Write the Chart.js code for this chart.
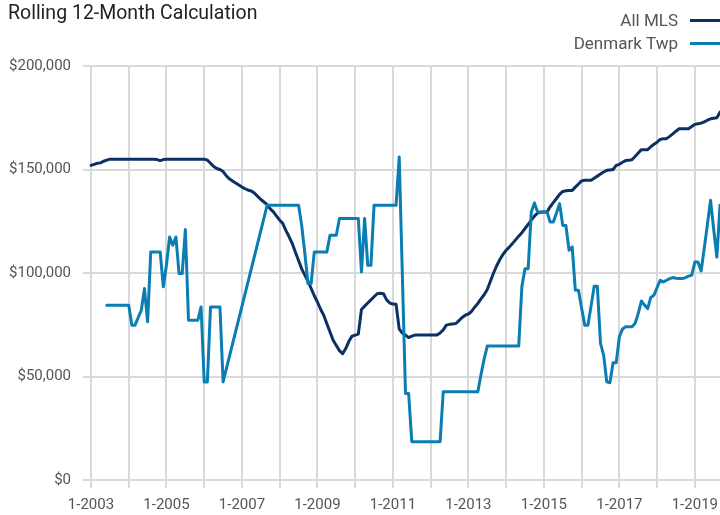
<!DOCTYPE html>
<html>
<head>
<meta charset="utf-8">
<script src="https://cdn.jsdelivr.net/npm/chart.js@4.4.1/dist/chart.umd.min.js"></script>
<style>
  html, body { margin: 0; padding: 0; background: #ffffff; }
  canvas { display: block; }
</style>
</head>
<body>
<canvas id="c" width="720" height="515"></canvas>
<script>
const chartTitle = 'Rolling 12-Month Calculation';
const seriesNames = ['All MLS', 'Denmark Twp'];
const seriesColors = ['#0b3162', '#0a7db3'];
const startYear = 2003;
const monthCount = 201; // 1-2003 .. 9-2019
const xTickLabels = ['1-2003', '1-2005', '1-2007', '1-2009', '1-2011', '1-2013', '1-2015', '1-2017', '1-2019'];
const yTicks = [0, 50000, 100000, 150000, 200000];

// values in thousands of dollars, one per month
const allMlsK = [
  152, 152.5, 153, 153.2, 154, 154.5, 155, 155, 155, 155, 155, 155,
  155, 155, 155, 155, 155, 155, 155, 155, 155, 154.8, 154.3, 154.8,
  155, 155, 155, 155, 155, 155, 155, 155, 155, 155, 155, 155,
  155, 154.5, 153, 151.5, 150.5, 150, 149, 147, 145.5, 144.5, 143.5, 142.5,
  141.5, 140.7, 140, 139.6, 138.5, 137, 135.5, 134.3, 133, 131, 129.5, 127.5,
  125.5, 123.9, 120.5, 117.5, 114.2, 110, 106, 102, 99, 96, 92.5, 89,
  86, 82.5, 79.6, 75.5, 71.5, 67.5, 65, 62.5, 61, 63.5, 67, 69.5,
  70, 70.5, 82.4, 84, 85.5, 87, 88.5, 90, 90.2, 90, 87, 85.5,
  85, 84.9, 73, 71, 70, 68.8, 69.5, 70, 70, 70, 70, 70,
  70, 70, 70, 71, 72.5, 74.8, 75.2, 75.4, 75.6, 77, 78.5, 79.6,
  80.2, 81.5, 83.5, 85.3, 87.5, 89.5, 92, 96, 100, 103.5, 106.5, 109,
  111, 112.5, 114.2, 116, 117.8, 119.5, 121.5, 123.5, 125.5, 127.5, 129, 129.3,
  129.5, 129.5, 132, 134, 136, 138, 139.4, 139.7, 139.9, 139.9, 141.5, 143,
  144.5, 144.8, 144.8, 144.8, 145.8, 146.8, 147.8, 148.8, 149.6, 149.8, 150, 152,
  152.5, 153.5, 154.3, 154.5, 154.7, 156.3, 158, 159.6, 159.6, 159.6, 161, 162.2,
  163.2, 164.5, 164.9, 164.9, 166, 167.2, 168.5, 169.7, 169.7, 169.7, 169.7, 170.8,
  171.8, 172.1, 172.4, 173, 173.8, 174.5, 174.8, 175, 177.7
];

const denmarkK = [
  null, null, null, null, null, 84.4, 84.4, 84.4, 84.4, 84.4, 84.4, 84.4,
  84.4, 74.8, 74.8, 78.5, 82, 92.5, 76.4, 110.2, 110.2, 110.2, 110.2, 93.3,
  104, 117.4, 113.4, 117.4, 99.7, 99.7, 121, 77.2, 77.2, 77.2, 77.2, 83.6,
  47.4, 47.4, 83.6, 83.6, 83.6, 83.6, 47.4, null, null, null, null, null,
  null, null, null, null, null, null, null, null, 132.7, 132.7, 132.7, 132.7,
  132.7, 132.7, 132.7, 132.7, 132.7, 132.7, 132.7, 122.9, 109.4, 94.9, 94.9, 110.2,
  110.2, 110.2, 110.2, 110.2, 118.2, 118.2, 118.2, 126.3, 126.3, 126.3, 126.3, 126.3,
  126.3, 126.3, 100.5, 126.3, 103.7, 103.7, 132.7, 132.7, 132.7, 132.7, 132.7, 132.7,
  132.7, 132.7, 156, 99, 41.8, 41.8, 18.5, 18.5, 18.5, 18.5, 18.5, 18.5,
  18.5, 18.5, 18.5, 18.5, 42.6, 42.6, 42.6, 42.6, 42.6, 42.6, 42.6, 42.6,
  42.6, 42.6, 42.6, 42.6, 50.8, 58.4, 64.7, 64.7, 64.7, 64.7, 64.7, 64.7,
  64.7, 64.7, 64.7, 64.7, 64.7, 93.3, 102.1, 102.1, 129.5, 133.8, 129.5, 129.5,
  129.5, 129.5, 124.6, 124.6, 129, 133.5, 123, 123, 111, 112.6, 91.7, 91.7,
  83, 74.8, 74.8, 84, 93.6, 93.6, 66, 60.3, 47.4, 47, 56.6, 56.6,
  69.2, 73, 74, 74, 74, 75.6, 80.4, 86.5, 84.5, 82.8, 88.2, 89.3,
  93, 96.5, 95.7, 96.5, 97.3, 97.8, 97.5, 97.3, 97.3, 97.8, 98.5, 98.9,
  105.3, 105.3, 101, 112, 123.5, 135.1, 121, 107.7, 132.7
];

const monthLabels = [];
for (let i = 0; i < monthCount; i++) {
  monthLabels.push(((i % 12) + 1) + '-' + (startYear + Math.floor(i / 12)));
}

const toDollars = arr => arr.map(v => v === null ? null : v * 1000);

const FONT = 'Roboto, "Liberation Sans", Arial, sans-serif';
const GRID = '#d9d9d9';

const headerPlugin = {
  id: 'header',
  afterDraw(chart) {
    const ctx = chart.ctx;
    ctx.save();
    ctx.fillStyle = '#222222';
    ctx.font = '19.5px ' + FONT;
    ctx.textAlign = 'left';
    ctx.textBaseline = 'alphabetic';
    ctx.fillText(chartTitle, 8, 19);

    ctx.font = '17px ' + FONT;
    ctx.textAlign = 'right';
    const baselines = [26, 49];
    chart.data.datasets.forEach((ds, i) => {
      const y = baselines[i];
      ctx.fillStyle = '#555555';
      ctx.fillText(ds.label, 678, y);
      ctx.strokeStyle = ds.borderColor;
      ctx.lineWidth = 3;
      ctx.beginPath();
      ctx.moveTo(690, y - 5.5);
      ctx.lineTo(724, y - 5.5);
      ctx.stroke();
    });
    ctx.restore();
  }
};

new Chart(document.getElementById('c'), {
  type: 'line',
  data: {
    labels: monthLabels,
    datasets: [
      {
        label: seriesNames[0],
        data: toDollars(allMlsK),
        borderColor: seriesColors[0],
        backgroundColor: seriesColors[0],
        borderWidth: 3,
        pointRadius: 0,
        tension: 0,
        borderJoinStyle: 'round',
        borderCapStyle: 'round',
        order: 2
      },
      {
        label: seriesNames[1],
        data: toDollars(denmarkK),
        borderColor: seriesColors[1],
        backgroundColor: seriesColors[1],
        borderWidth: 3,
        pointRadius: 0,
        tension: 0,
        spanGaps: true,
        borderJoinStyle: 'round',
        borderCapStyle: 'round',
        order: 1
      }
    ]
  },
  options: {
    responsive: false,
    animation: false,
    layout: { padding: { top: 66, right: 0, bottom: 0, left: 0 } },
    plugins: {
      legend: { display: false },
      title: { display: false },
      tooltip: { enabled: false }
    },
    scales: {
      x: {
        type: 'category',
        offset: false,
        afterBuildTicks: s => {
          s.ticks = s.ticks.filter(t => s.getLabelForValue(t.value).startsWith('1-'));
        },
        ticks: {
          autoSkip: false,
          maxRotation: 0,
          minRotation: 0,
          color: '#555555',
          font: { family: FONT, size: 15 },
          padding: 8,
          callback: function (v) {
            const l = this.getLabelForValue(v);
            return xTickLabels.includes(l) ? l : '';
          }
        },
        grid: { color: GRID, lineWidth: 2, tickLength: 8, drawTicks: true },
        border: { display: false },
        afterFit: s => { s.height = 35; s.paddingLeft = 0; s.paddingRight = 0; }
      },
      y: {
        min: 0,
        max: 200000,
        afterBuildTicks: s => { s.ticks = yTicks.map(v => ({ value: v })); },
        ticks: {
          color: '#555555',
          font: { family: FONT, size: 15 },
          padding: 12,
          callback: v => '$' + Number(v).toLocaleString('en-US')
        },
        grid: { color: GRID, lineWidth: 2, tickLength: 8 },
        border: { display: false },
        afterFit: s => { s.width = 91; }
      }
    }
  },
  plugins: [headerPlugin]
});
</script>
</body>
</html>
